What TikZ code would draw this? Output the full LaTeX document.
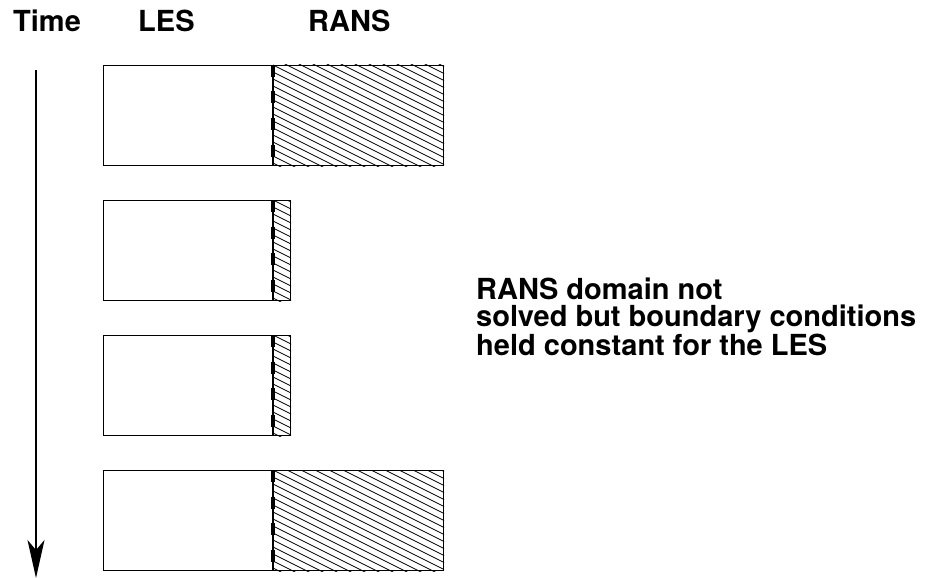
\documentclass[tikz,border=0pt]{standalone}
\usepackage{fontspec}
\setmainfont{TeX Gyre Heros}
\usetikzlibrary{arrows.meta,positioning}
\usetikzlibrary{calc}

% slanted hatching inside a named rectangle node
\newcommand{\ranshatch}[1]{%
  \begin{scope}
    \clip (#1.north west) rectangle (#1.south east);
    \foreach \k in {-91,-84,...,105}
      \draw[hatch] ($(#1.north west)+(0,\k)$) -- ++(200,100);
  \end{scope}}

\begin{document}
\begin{tikzpicture}
  [x=1pt,y=-1pt,
  lesbox/.style={rectangle,draw=black,line width=1.1pt,inner sep=0pt,anchor=north west,minimum width=169pt,minimum height=100pt},
  ransbox/.style={rectangle,draw=black,line width=1.1pt,inner sep=0pt,anchor=north west,minimum height=100pt},
  hatch/.style={black,line width=0.8pt},
  iface/.style={black,line width=3.4pt,dash pattern=on 12pt off 14.5pt},
  head/.style={font=\bfseries\fontsize{29}{29}\selectfont,anchor=base west,inner sep=0pt},
  note/.style={font=\bfseries\fontsize{29}{27}\selectfont,align=left,anchor=north west,inner sep=0pt}]
  \useasboundingbox (0,0) rectangle (938,578);

  \node[head] (time) at (13,32) {Time};
  \node[head] (les) at (138,32) {LES};
  \node[head] (rans) at (308,32) {RANS};

  \node[lesbox] (les1) at (103,65) {};
  \node[lesbox] (les2) at (103,200) {};
  \node[lesbox] (les3) at (103,335) {};
  \node[lesbox] (les4) at (103,470) {};

  \node[ransbox,minimum width=170pt] (rans1) at (les1.north east) {};
  \node[ransbox,minimum width=17pt] (rans2) at (les2.north east) {};
  \node[ransbox,minimum width=17pt] (rans3) at (les3.north east) {};
  \node[ransbox,minimum width=170pt] (rans4) at (les4.north east) {};

  \ranshatch{rans1}
  \ranshatch{rans2}
  \ranshatch{rans3}
  \ranshatch{rans4}

  \draw[iface] (rans1.north west) -- (rans1.south west);
  \draw[iface] (rans2.north west) -- (rans2.south west);
  \draw[iface] (rans3.north west) -- (rans3.south west);
  \draw[iface] (rans4.north west) -- (rans4.south west);

  % time axis
  \coordinate (t0) at (36,70);
  \coordinate (t1) at (36,578);
  \draw[black,line width=1.5pt,-{Stealth[length=38pt,width=17pt,inset=10pt]}] (t0) -- (t1);

  \node[note] (frozen) at (476,278) {RANS domain not\\solved but boundary conditions\\held constant for the LES};
\end{tikzpicture}
\end{document}
